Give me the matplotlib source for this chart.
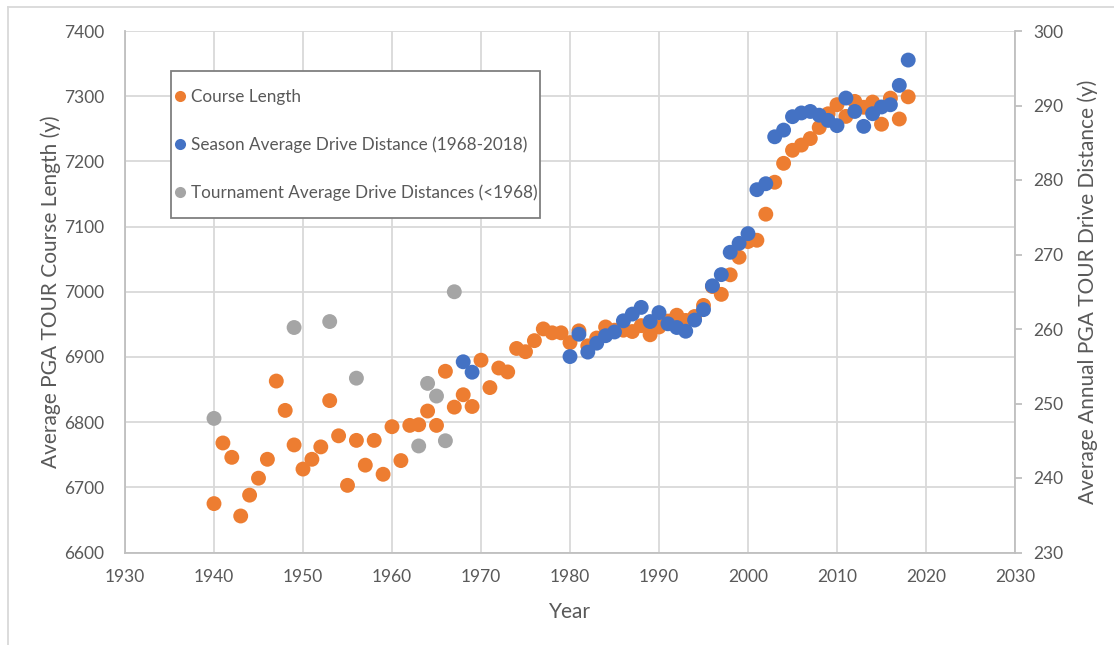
import matplotlib
matplotlib.use("Agg")
import matplotlib.pyplot as plt
from matplotlib.lines import Line2D
from matplotlib.patches import Rectangle

plt.rcParams['font.family'] = ['Lato', 'DejaVu Sans']

# course length (left axis)
course_years = list(range(1940, 2019))
course_length = [
    6675, 6768, 6746, 6656, 6688, 6714, 6743, 6863, 6818, 6765,   # 1940s
    6728, 6743, 6762, 6833, 6779, 6703, 6772, 6734, 6772, 6720,   # 1950s
    6793, 6741, 6795, 6796, 6817, 6795, 6878, 6823, 6842, 6824,   # 1960s
    6895, 6853, 6883, 6877, 6913, 6908, 6925, 6943, 6937, 6937,   # 1970s
    6922, 6940, 6917, 6929, 6946, 6941, 6941, 6939, 6948, 6934,   # 1980s
    6946, 6955, 6964, 6956, 6962, 6979, 7008, 6996, 7026, 7053,   # 1990s
    7077, 7079, 7119, 7168, 7197, 7217, 7225, 7235, 7252, 7273,   # 2000s
    7287, 7269, 7292, 7283, 7291, 7257, 7297, 7265, 7299,         # 2010s
]

# season average drive distance (right axis)
season_years = [1968, 1969] + list(range(1980, 2019))
season_drive = [
    255.6, 254.2,
    256.3, 259.3, 256.9, 258.1, 259.1, 259.6, 261.1, 262.0, 262.9, 261.0,
    262.2, 260.7, 260.2, 259.7, 261.2, 262.6, 265.8, 267.3, 270.3, 271.5,
    272.8, 278.7, 279.5, 285.8, 286.7, 288.5, 289.0, 289.2, 288.7, 288.0,
    287.3, 291.0, 289.2, 287.2, 288.9, 289.8, 290.1, 292.7, 296.1,
]

# tournament average drive distances before 1968 (right axis)
tourn_years = [1940, 1949, 1953, 1956, 1963, 1964, 1965, 1966, 1967]
tourn_drive = [248.0, 260.2, 261.0, 253.4, 244.3, 252.7, 251.0, 245.0, 265.0]

orange = '#ED7D31'
blue = '#4472C4'
gray = '#A5A5A5'
txt = '#595959'
grid = '#D9D9D9'

W, H = 1114, 645
fig = plt.figure(figsize=(W / 100, H / 100), dpi=100)
ax = fig.add_axes([125 / W, 1 - 552.5 / H, 890 / W, 521.5 / H])
ax2 = ax.twinx()

ax.scatter(course_years, course_length, s=115, color=orange, edgecolors='none', zorder=3)
ax2.scatter(season_years, season_drive, s=115, color=blue, edgecolors='none', zorder=3)
ax2.scatter(tourn_years, tourn_drive, s=115, color=gray, edgecolors='none', zorder=3)

ax.set_xlim(1930, 2030)
ax.set_ylim(6600, 7400)
ax2.set_ylim(230, 300)
ax.set_xticks(range(1930, 2031, 10))
ax.set_yticks(range(6600, 7401, 100))
ax2.set_yticks(range(230, 301, 10))

ax.grid(True, color=grid, lw=1.3, zorder=0)
ax.set_axisbelow(True)

for a in (ax, ax2):
    for s in a.spines.values():
        s.set_visible(False)
ax.spines['left'].set_visible(True)
ax.spines['bottom'].set_visible(True)
ax2.spines['right'].set_visible(True)
for s in (ax.spines['left'], ax.spines['bottom'], ax2.spines['right']):
    s.set_color('#BFBFBF')
    s.set_linewidth(1.3)

ax.tick_params(axis='y', length=0, pad=15, labelsize=12.5, labelcolor=txt)
ax.tick_params(axis='x', length=0, pad=12, labelsize=12.5, labelcolor=txt)
ax2.tick_params(axis='y', length=5, width=1.3, color='#BFBFBF', pad=8,
                labelsize=12.5, labelcolor=txt)

ax.set_xlabel('Year', fontsize=15, color=txt, labelpad=12)
ax.set_ylabel('Average PGA TOUR Course Length (y)', fontsize=15, color=txt, labelpad=2)
ax2.set_ylabel('Average Annual PGA TOUR Drive Distance (y)', fontsize=15, color=txt, labelpad=10)

# legend: own frame box, entries placed inside without a frame
fig.add_artist(Rectangle((171 / W, 1 - 218 / H), 369 / W, 147 / H, transform=fig.transFigure,
                         facecolor='white', edgecolor='#7F7F7F', lw=1.3, zorder=4))
handles = [
    Line2D([], [], ls='none', marker='o', ms=8, mfc=orange, mec='none'),
    Line2D([], [], ls='none', marker='o', ms=8, mfc=blue, mec='none'),
    Line2D([], [], ls='none', marker='o', ms=8, mfc=gray, mec='none'),
]
labels = ['Course Length', 'Season Average Drive Distance (1968-2018)',
          'Tournament Average Drive Distances (<1968)']
leg = fig.legend(handles, labels, loc='upper left',
                 bbox_to_anchor=(176 / W, 1 - 89 / H), bbox_transform=fig.transFigure,
                 fontsize=12.3, labelcolor=txt, frameon=False, labelspacing=1.85,
                 handlelength=0.5, handletextpad=0.35, borderpad=0, borderaxespad=0)
leg.set_zorder(5)

# chart area border
fig.add_artist(Line2D([8 / W, 8 / W], [0, 1 - 7 / H], transform=fig.transFigure,
                      color=grid, lw=1.3))
fig.add_artist(Line2D([8 / W, 1], [1 - 7 / H, 1 - 7 / H], transform=fig.transFigure,
                      color=grid, lw=1.3))

fig.savefig('out.png', dpi=100)
